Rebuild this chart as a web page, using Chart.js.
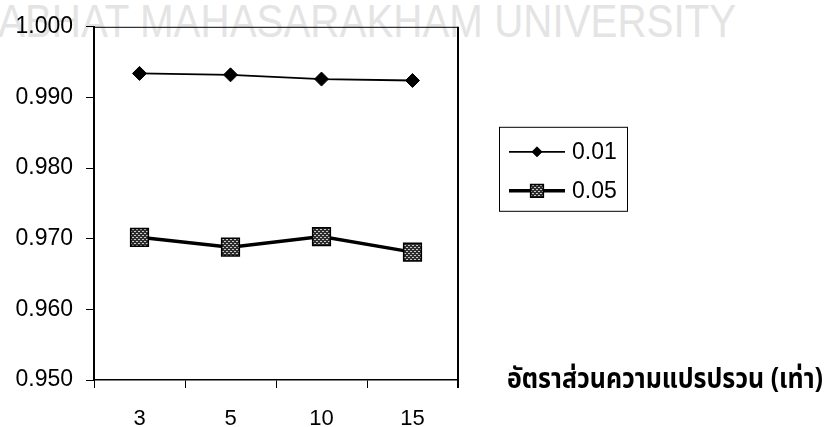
<!DOCTYPE html>
<html><head><meta charset="utf-8">
<script src="https://cdn.jsdelivr.net/npm/chart.js@4.4.0/dist/chart.umd.min.js"></script>
<style>
html,body{margin:0;padding:0;background:#fff;}
#wrap{position:relative;width:825px;height:427px;overflow:hidden;background:#fff;}
#wm{position:absolute;left:-2px;top:-6px;font:46px "Liberation Sans",Arial,sans-serif;color:#e4e4e4;white-space:nowrap;transform-origin:0 0;transform:scaleX(0.877);}
canvas{position:absolute;left:0;top:0;}
</style></head><body>
<div id="wrap"><div id="wm">ABHAT MAHASARAKHAM UNIVERSITY</div><canvas id="c" width="825" height="427"></canvas></div>
<script>
const categories = ['3', '5', '10', '15'];
const seriesNames = ['0.01', '0.05'];
const values001 = [0.9934, 0.9932, 0.9926, 0.9924];
const values005 = [0.9702, 0.9688, 0.9703, 0.9681];
const yTicks = [0.950, 0.960, 0.970, 0.980, 0.990, 1.000];
const xAxisTitle = 'อัตราส่วนความแปรปรวน (เท่า)';

const numFont = '"Liberation Sans", Arial, sans-serif';

// gray textured fill for square markers
const pc = document.createElement('canvas');
pc.width = 4; pc.height = 4;
const pctx = pc.getContext('2d');
pctx.fillStyle = '#2e2e2e'; pctx.fillRect(0, 0, 4, 4);
pctx.fillStyle = '#c8c8c8';
pctx.fillRect(0, 1, 2, 1);
pctx.fillRect(2, 3, 2, 1);
const squareFill = pctx.createPattern(pc, 'repeat');

const datasets = [
  { label: seriesNames[0], data: values001, borderColor: '#000', borderWidth: 1.8,
    pointStyle: 'rectRot', pointRadius: 7, pointHoverRadius: 7, pointBackgroundColor: '#000',
    pointBorderColor: '#000', pointBorderWidth: 1, tension: 0, legendRadius: 5 },
  { label: seriesNames[1], data: values005, borderColor: '#000', borderWidth: 3.5,
    pointStyle: 'rect', pointRadius: 12.5, pointHoverRadius: 12.5, pointBackgroundColor: squareFill,
    pointBorderColor: '#000', pointBorderWidth: 1.5, tension: 0, legendRadius: 9 }
];

const framePlugin = {
  id: 'frame',
  beforeDatasetsDraw(chart) {
    const { ctx, chartArea: a } = chart;
    ctx.save();
    ctx.strokeStyle = '#000';
    ctx.lineWidth = 1;
    ctx.beginPath(); ctx.moveTo(a.left, a.top + 0.5); ctx.lineTo(a.right, a.top + 0.5); ctx.stroke();
    ctx.lineWidth = 2;
    ctx.beginPath(); ctx.moveTo(a.right, a.top); ctx.lineTo(a.right, a.bottom + 8); ctx.stroke();
    ctx.restore();
  },
  afterDraw(chart) {
    const { ctx, chartArea: a } = chart;
    ctx.save();
    // legend
    const bx = a.right + 41, by = a.top + 100, bw = 128, bh = 84;
    ctx.strokeStyle = '#000'; ctx.lineWidth = 1;
    ctx.strokeRect(bx + 0.5, by + 0.5, bw, bh);
    chart.data.datasets.forEach((ds, i) => {
      const y = by + 25 + i * 39;
      ctx.strokeStyle = ds.borderColor; ctx.lineWidth = ds.borderWidth;
      ctx.beginPath(); ctx.moveTo(bx + 10, y); ctx.lineTo(bx + 66, y); ctx.stroke();
      ctx.fillStyle = ds.pointBackgroundColor; ctx.strokeStyle = ds.pointBorderColor;
      ctx.lineWidth = ds.pointBorderWidth;
      Chart.helpers.drawPoint(ctx, { pointStyle: ds.pointStyle, rotation: 0, radius: ds.legendRadius, borderWidth: ds.pointBorderWidth }, bx + 38, y);
      ctx.fillStyle = '#000';
      ctx.font = '23px ' + numFont;
      ctx.textBaseline = 'middle'; ctx.textAlign = 'left';
      ctx.fillText(ds.label, bx + 73, y + 1);
    });
    // axis title
    ctx.fillStyle = '#000';
    ctx.font = 'bold 29px "Noto Sans Thai", "Noto Sans Thai UI", "Noto Sans", "DejaVu Sans", sans-serif';
    ctx.textBaseline = 'alphabetic'; ctx.textAlign = 'left';
    ctx.fillText(xAxisTitle, a.right + 49, a.bottom + 8, 316);
    ctx.restore();
  }
};

new Chart(document.getElementById('c'), {
  type: 'line',
  data: { labels: categories, datasets },
  options: {
    responsive: false,
    devicePixelRatio: 1,
    animation: false,
    layout: { padding: { top: 24, right: 367, left: 0, bottom: 0 } },
    plugins: { legend: { display: false }, tooltip: { enabled: false } },
    scales: {
      x: {
        type: 'category', offset: true,
        grid: { display: true, offset: true, drawOnChartArea: false, drawTicks: true, tickLength: 8, color: '#000', lineWidth: 1 },
        border: { display: true, color: '#000', width: 1.5 },
        ticks: { color: '#000', font: { family: numFont, size: 22 }, padding: 18, maxRotation: 0 },
        afterFit(s) { s.height = 47; }
      },
      y: {
        min: 0.95, max: 1.0,
        afterBuildTicks(s) { s.ticks = yTicks.map(v => ({ value: v })); },
        grid: { display: true, drawOnChartArea: false, drawTicks: true, tickLength: 8, color: '#000', lineWidth: 1 },
        border: { display: true, color: '#000', width: 2 },
        ticks: { color: '#000', font: { family: numFont, size: 23 }, padding: 13, callback: v => Number(v).toFixed(3) },
        afterFit(s) { s.width = 94; }
      }
    }
  },
  plugins: [framePlugin]
});
</script>
</body></html>
